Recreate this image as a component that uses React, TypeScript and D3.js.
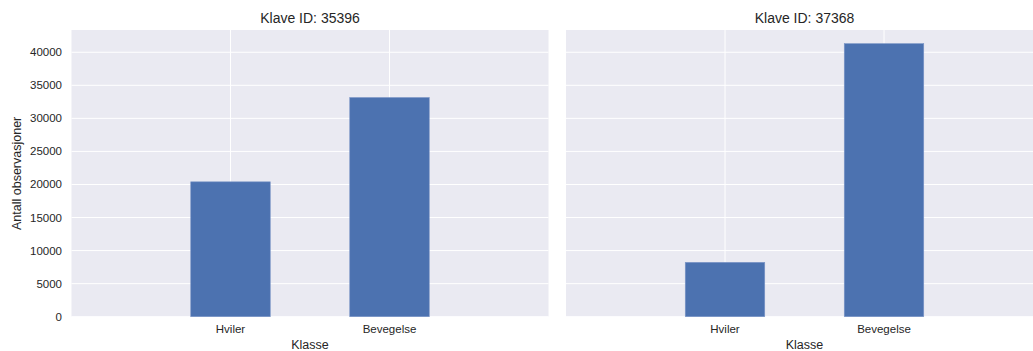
import React from "react";
import * as d3 from "d3";

// Observation counts per class for each animal
const categories = ["Hviler", "Bevegelse"];
const klaveIds = ["35396", "37368"];
const counts35396 = [20400, 33150];
const counts37368 = [8220, 41300];
const yTicks = [0, 5000, 10000, 15000, 20000, 25000, 30000, 35000, 40000];

const W = 1033;
const H = 351;
const FONT = "'Liberation Sans', Arial, sans-serif";
const TEXT = "#262626";
const BG = "#EAEAF2";
const BAR = "#4C72B0";

const panelTop = 30;
const panelBottom = 316.7;
const panelWidth = 477;
const panelLefts = [71.5, 566];

const yMax = Math.max(...counts35396, ...counts37368) * 1.05;
const y = d3.scaleLinear().domain([0, yMax]).range([panelBottom, panelTop]);

function Panel({ left, id, values, showY }: { left: number; id: string; values: number[]; showY: boolean }) {
  const x = d3.scaleLinear().domain([-1, categories.length]).range([left, left + panelWidth]);
  const barW = x(0.5) - x(0);
  const cx = (left + left + panelWidth) / 2;
  return (
    <g>
      <rect x={left} y={panelTop} width={panelWidth} height={panelBottom - panelTop} fill={BG} />
      {yTicks.map((t) => (
        <line key={t} x1={left} x2={left + panelWidth} y1={y(t)} y2={y(t)} stroke="#fff" strokeWidth={1} />
      ))}
      {categories.map((c, i) => (
        <line key={c} x1={x(i)} x2={x(i)} y1={panelTop} y2={panelBottom} stroke="#fff" strokeWidth={1} />
      ))}
      {values.map((v, i) => (
        <rect
          key={i}
          x={x(i) - barW / 2}
          y={y(v)}
          width={barW}
          height={y(0) - y(v)}
          fill={BAR}
          stroke="#7a95c6"
          strokeWidth={0.6}
        />
      ))}
      {categories.map((c, i) => (
        <text key={c} x={x(i)} y={332.5} textAnchor="middle" fontSize={11.5} fill={TEXT} fontFamily={FONT}>
          {c}
        </text>
      ))}
      {showY &&
        yTicks.map((t) => (
          <text key={t} x={left - 9.5} y={y(t) + 4} textAnchor="end" fontSize={11.5} fill={TEXT} fontFamily={FONT}>
            {t}
          </text>
        ))}
      <text x={cx} y={23.3} textAnchor="middle" fontSize={14} fill={TEXT} fontFamily={FONT}>
        {`Klave ID: ${id}`}
      </text>
      <text x={cx} y={348.5} textAnchor="middle" fontSize={12.5} fill={TEXT} fontFamily={FONT}>
        Klasse
      </text>
    </g>
  );
}

export default function App() {
  return (
    <svg
      width={W}
      height={H}
      style={{ position: "absolute", left: 0, top: 0, display: "block", background: "#fff" }}
    >
      <Panel left={panelLefts[0]} id={klaveIds[0]} values={counts35396} showY={true} />
      <Panel left={panelLefts[1]} id={klaveIds[1]} values={counts37368} showY={false} />
      <text
        transform={`translate(21, ${(panelTop + panelBottom) / 2}) rotate(-90)`}
        textAnchor="middle"
        fontSize={12.5}
        fill={TEXT}
        fontFamily={FONT}
      >
        Antall observasjoner
      </text>
    </svg>
  );
}
